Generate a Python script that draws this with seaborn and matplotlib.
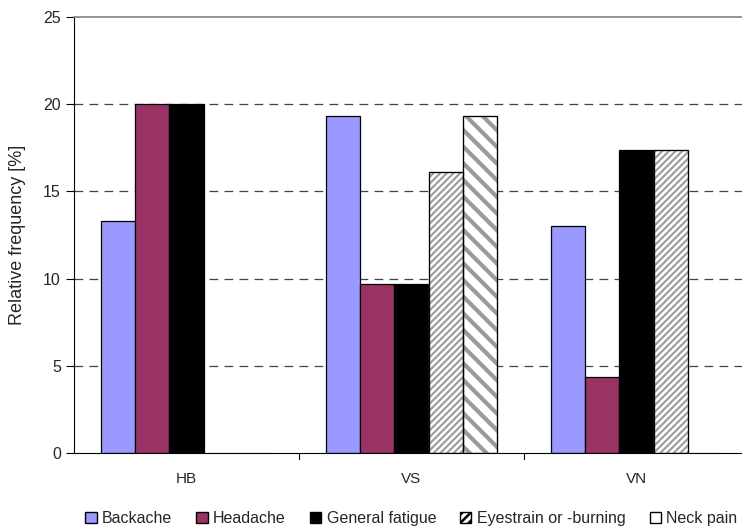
import pandas as pd
import seaborn as sns
import matplotlib.pyplot as plt
from matplotlib.patches import Patch, Rectangle

# data
groups = ['HB', 'VS', 'VN']
symptoms = ['Backache', 'Headache', 'General fatigue', 'Eyestrain or -burning', 'Neck pain']
backache = [13.33, 19.35, 13.04]
headache = [20.0, 9.68, 4.35]
fatigue = [20.0, 9.68, 17.39]
eyestrain = [0.0, 16.13, 17.39]
neck_pain = [0.0, 19.35, 0.0]

colors = ['#9999FF', '#993366', '#000000', '#FFFFFF', '#FFFFFF']
hatches = [None, None, None, '/////', '\\\\']
hatch_widths = [None, None, None, 1.5, 3.0]

# long format for seaborn
rows = []
for name, vals in zip(symptoms, [backache, headache, fatigue, eyestrain, neck_pain]):
    for g, v in zip(groups, vals):
        rows.append({'group': g, 'symptom': name, 'value': v})
df = pd.DataFrame(rows)

sns.set_style('white')
plt.rcParams['font.family'] = ['Liberation Sans', 'DejaVu Sans']
plt.rcParams['hatch.linewidth'] = 1.8

fig = plt.figure(figsize=(7.42, 5.31), dpi=100)
# plot area runs past the right edge of the image, like the original
ax = fig.add_axes([74 / 742, 78 / 531, 675 / 742, 436 / 531])

sns.barplot(data=df, x='group', y='value', hue='symptom', hue_order=symptoms,
            order=groups, palette=colors, width=0.76, edgecolor='black',
            linewidth=0.9, saturation=1, legend=False, ax=ax)

# hatching for the last two series: gray stripes, then a black outline on top
for cont, h, hw in zip(ax.containers, hatches, hatch_widths):
    for bar in cont:
        if h:
            bar.set_hatch(h)
            bar.set_edgecolor('#9a9a9a')
            if hasattr(bar, 'set_hatch_linewidth'):
                bar.set_hatch_linewidth(hw)
            if bar.get_height() > 0:
                ax.add_patch(Rectangle(bar.get_xy(), bar.get_width(), bar.get_height(),
                                       fill=False, edgecolor='black', lw=0.9, zorder=bar.get_zorder() + 0.1))

ax.set_ylim(0, 25)
ax.set_xlim(-0.5, 2.5)
ax.set_yticks([0, 5, 10, 15, 20, 25])
ax.set_xticks([0, 1, 2])
ax.set_xticklabels(groups)
ax.tick_params(axis='x', length=0, labelsize=11, pad=14)
ax.tick_params(axis='y', length=6, width=0.8, labelsize=11.5, left=True, color='black')

# group separators on the x axis
for x in [0.5, 1.5]:
    ax.plot([x, x], [0, -0.014], transform=ax.get_xaxis_transform(),
            color='black', lw=0.8, clip_on=False)

for y in [5, 10, 15, 20]:
    ax.axhline(y, color='#444444', lw=0.9, ls=(0, (7, 5)), zorder=0)

ax.spines['right'].set_visible(False)
ax.spines['top'].set_color('#808080')
ax.spines['top'].set_linewidth(1.2)
ax.spines['left'].set_color('black')
ax.spines['bottom'].set_color('black')
ax.spines['left'].set_linewidth(0.8)
ax.spines['bottom'].set_linewidth(0.8)

ax.set_xlabel('')
ax.set_ylabel('Relative frequency [%]', fontsize=13, labelpad=12)

handles = []
for name, c, h in zip(symptoms, colors, hatches):
    handles.append(Patch(facecolor=c, edgecolor='black', hatch=('////' if h == '/////' else None), label=name))
ax.legend(handles=handles, loc='upper center', bbox_to_anchor=(0.5, -0.1),
          ncol=5, frameon=False, fontsize=11.5, handlelength=0.7, handleheight=0.7,
          handletextpad=0.35, columnspacing=1.5)

fig.savefig('out.png', dpi=100)
